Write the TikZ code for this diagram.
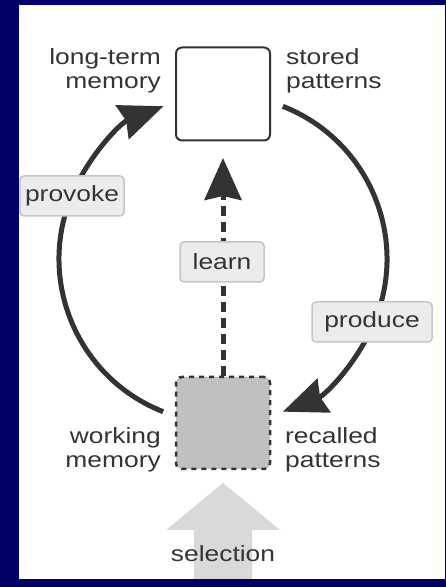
\documentclass[tikz,border=0pt]{standalone}
\usepackage{fontspec}
\setmainfont[FakeStretch=1.2]{Liberation Sans}
\usetikzlibrary{arrows.meta}
\definecolor{navy}{RGB}{0,0,102}
\definecolor{ink}{RGB}{51,51,51}
\definecolor{txt}{RGB}{52,52,52}
\definecolor{tagfill}{RGB}{236,236,236}
\definecolor{tagline}{RGB}{198,198,198}
\definecolor{wmfill}{RGB}{192,192,192}
\definecolor{selfill}{RGB}{217,217,217}

\begin{document}
\begin{tikzpicture}[x=1pt,y=1pt,
  every node/.style={font=\fontsize{22}{24}\selectfont, text=txt},
  capleft/.style={inner sep=0pt, align=right, anchor=east},
  capright/.style={inner sep=0pt, align=left, anchor=west},
  store/.style={draw=ink, line width=2pt, rounded corners=6pt, fill=white,
    minimum width=94pt, minimum height=93pt, inner sep=0pt},
  workbox/.style={draw=ink, line width=2.5pt, rounded corners=6pt, fill=wmfill,
    dash pattern=on 5pt off 5pt, minimum width=94pt, minimum height=92pt, inner sep=0pt},
  tag/.style={draw=tagline, line width=1.5pt, fill=tagfill, rounded corners=4pt,
    minimum height=40pt, inner xsep=5pt, inner ysep=0pt},
  flow/.style={draw=ink, line width=5pt,
    -{Stealth[length=44pt, width=36pt, inset=4pt]}},
  learnflow/.style={draw=ink, line width=5pt, dash pattern=on 10pt off 6pt,
    -{Stealth[length=42pt, width=37pt, inset=4pt]}}
]
% page and panel
\fill[navy] (0,0) rectangle (446,587);
\fill[white] (19,8) rectangle (445,582);

% selection block arrow
\fill[selfill] (194,8) -- (194,57) -- (166,57) -- (223,104) -- (280,57)
  -- (252,57) -- (252,8) -- cycle;
\node (sel) at (223,33) {selection};

% cycle centre and arc end points
\coordinate (c) at (223,328);
\coordinate (learnTip) at (223,429);

% memory boxes
\node[store] (ltm) at (223,493) {};
\node[workbox] (wm) at (223,164) {};

% connectors
\draw[flow] ([shift={(c)}]248.6:164) arc[start angle=248.6, end angle=111.3, radius=164];
\draw[flow] ([shift={(c)}]68.6:164) arc[start angle=68.6, end angle=-68.6, radius=164];
\draw[learnflow] (wm.north) -- (learnTip);

% connector labels
\node[tag, minimum width=104pt] (provoke) at (72,391) {provoke};
\node[tag, minimum width=84pt] (learn) at (222,325) {learn};
\node[tag, minimum width=120pt] (produce) at (372,265) {produce};

% captions
\node[capleft] (ltmcap) at (161,516) {long-term\\memory};
\node[capright] (stcap) at (286,516) {stored\\patterns};
\node[capleft] (wmcap) at (161,137) {working\\memory};
\node[capright] (rccap) at (285,137) {recalled\\patterns};
\end{tikzpicture}
\end{document}
